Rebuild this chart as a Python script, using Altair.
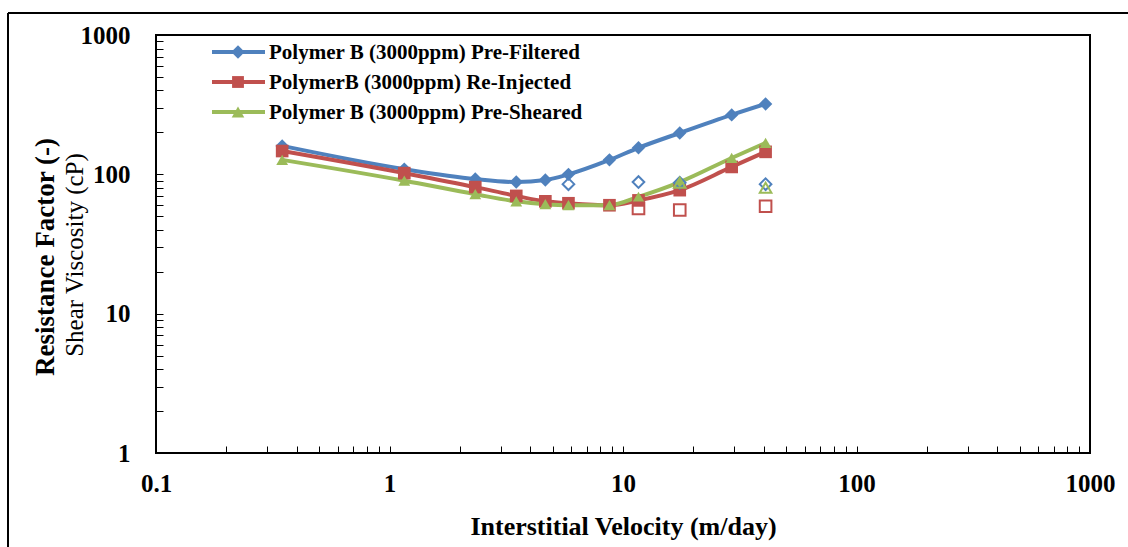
import altair as alt
import pandas as pd

# Interstitial velocity (m/day) for each measured step
velocity = [0.347, 1.157, 2.33, 3.49, 4.65, 5.84, 8.75, 11.65, 17.5, 29.2, 40.8]

# Resistance factor (-) per polymer state
rf_prefiltered = [160, 109, 92.5, 88, 91, 100, 127, 155, 198, 267, 320]
rf_reinjected = [147, 102, 81, 70, 64, 62, 60, 65, 77, 113, 145]
rf_presheared = [127, 90, 72, 64, 61, 60, 60, 69, 88, 131, 168]

# Shear viscosity (cP), measured at a few velocities only
sv_velocity = [5.84, 11.65, 17.5, 40.8]
sv_prefiltered = [85, 88, 87, 85]
sv_reinjected_velocity = [11.65, 17.5, 40.8]
sv_reinjected = [57, 55.5, 59]
sv_presheared_velocity = [17.5, 40.8]
sv_presheared = [87, 80]

series_names = [
    "Polymer B (3000ppm) Pre-Filtered",
    "PolymerB (3000ppm) Re-Injected",
    "Polymer B (3000ppm) Pre-Sheared",
]
series_colors = ["#4F81BD", "#C0504D", "#9BBB59"]
series_shapes = ["diamond", "square", "triangle-up"]
series_sizes = [180, 140, 160]

x_ticks = [0.1, 0.2, 0.3, 0.4, 0.5, 0.6, 0.7, 0.8, 0.9,
           1, 2, 3, 4, 5, 6, 7, 8, 9,
           10, 20, 30, 40, 50, 60, 70, 80, 90,
           100, 200, 300, 400, 500, 600, 700, 800, 900, 1000]
y_ticks = [1, 2, 3, 4, 5, 6, 7, 8, 9,
           10, 20, 30, 40, 50, 60, 70, 80, 90,
           100, 200, 300, 400, 500, 600, 700, 800, 900, 1000]

SERIF = "Liberation Serif, Times New Roman, serif"
W, H = 934, 418
TICK = 7

rf_df = pd.concat([
    pd.DataFrame({"v": velocity, "val": vals, "series": name})
    for name, vals in zip(series_names, [rf_prefiltered, rf_reinjected, rf_presheared])
])
sv_df = pd.concat([
    pd.DataFrame({"v": sv_velocity, "val": sv_prefiltered, "series": series_names[0]}),
    pd.DataFrame({"v": sv_reinjected_velocity, "val": sv_reinjected, "series": series_names[1]}),
    pd.DataFrame({"v": sv_presheared_velocity, "val": sv_presheared, "series": series_names[2]}),
])

decade_expr = ("(datum.value==0.1||datum.value==1||datum.value==10||"
               "datum.value==100||datum.value==1000) ? format(datum.value,'~g') : ''")

x_enc = alt.X(
    "v:Q",
    scale=alt.Scale(type="log", domain=[0.1, 1000], nice=False),
    axis=alt.Axis(
        values=x_ticks, labelExpr=decade_expr, title="Interstitial Velocity (m/day)",
        offset=-TICK, tickSize=TICK, domain=False, grid=False, tickColor="black",
        tickWidth=1, labelPadding=TICK + 11, labelFont=SERIF, labelFontSize=25,
        labelFontWeight="bold", labelColor="black", labelFlush=False, labelOverlap=False,
        titleFont=SERIF, titleFontSize=26, titleFontWeight="bold", titleColor="black",
        titlePadding=17,
    ),
)
y_enc = alt.Y(
    "val:Q",
    scale=alt.Scale(type="log", domain=[1, 1000], nice=False),
    axis=alt.Axis(
        values=y_ticks, labelExpr=decade_expr.replace("0.1", "1"), title=None,
        offset=-TICK, tickSize=TICK, domain=False, grid=False, tickColor="black",
        tickWidth=1, labelPadding=TICK + 19, labelFont=SERIF, labelFontSize=25,
        labelFontWeight="bold", labelColor="black", labelFlush=False, labelOverlap=False,
    ),
)

color_scale = alt.Scale(domain=series_names, range=series_colors)
shape_scale = alt.Scale(domain=series_names, range=series_shapes)
size_scale = alt.Scale(domain=series_names, range=series_sizes)

lines = alt.Chart(rf_df).mark_line(strokeWidth=4, interpolate="monotone").encode(
    x=x_enc, y=y_enc,
    color=alt.Color("series:N", scale=color_scale, legend=None),
    detail="series:N",
)
points = alt.Chart(rf_df).mark_point(filled=True, opacity=1).encode(
    x="v:Q", y="val:Q",
    color=alt.Color("series:N", scale=color_scale, legend=None),
    shape=alt.Shape("series:N", scale=shape_scale, legend=None),
    size=alt.Size("series:N", scale=size_scale, legend=None),
)
hollow = alt.Chart(sv_df).mark_point(filled=False, opacity=1, size=135, strokeWidth=2).encode(
    x="v:Q", y="val:Q",
    color=alt.Color("series:N", scale=color_scale, legend=None),
    shape=alt.Shape("series:N", scale=shape_scale, legend=None),
)

one_row = pd.DataFrame({"k": [0]})

# Plot-area frame
plot_frame = alt.Chart(one_row).mark_rect(
    filled=False, stroke="black", strokeWidth=2).encode(
    x=alt.value(0), x2=alt.value(W), y=alt.value(0), y2=alt.value(H))

# Legend drawn inside the plot area, top left
legend_layers = []
legend_rows = [17, 47, 77]
for name, col, shp, sz, yy in zip(series_names, series_colors, series_shapes, series_sizes, legend_rows):
    legend_layers.append(alt.Chart(one_row).mark_rule(color=col, strokeWidth=4).encode(
        x=alt.value(56), x2=alt.value(109), y=alt.value(yy)))
    legend_layers.append(alt.Chart(one_row).mark_point(
        filled=True, opacity=1, color=col, shape=shp, size=sz).encode(
        x=alt.value(82), y=alt.value(yy)))
    legend_layers.append(alt.Chart(one_row).mark_text(
        align="left", baseline="middle", font=SERIF, fontSize=21, fontWeight="bold",
        color="black").encode(x=alt.value(113), y=alt.value(yy + 1), text=alt.value(name)))

# Two-line y-axis title: bold resistance factor, regular shear viscosity
ytitle1 = alt.Chart(one_row).mark_text(
    angle=270, align="center", baseline="middle", font=SERIF, fontSize=27,
    fontWeight="bold", color="black").encode(
    x=alt.value(-110), y=alt.value(222), text=alt.value("Resistance Factor (-)"))
ytitle2 = alt.Chart(one_row).mark_text(
    angle=270, align="center", baseline="middle", font=SERIF, fontSize=25,
    fontWeight="normal", color="black").encode(
    x=alt.value(-81), y=alt.value(220), text=alt.value("Shear Viscosity (cP)"))

# Outer frame (top and left edges)
frame_top = alt.Chart(one_row).mark_rule(color="black", strokeWidth=2).encode(
    x=alt.value(-148), x2=alt.value(980), y=alt.value(-22))
frame_left = alt.Chart(one_row).mark_rule(color="black", strokeWidth=2).encode(
    x=alt.value(-148), y=alt.value(-22), y2=alt.value(530))

chart = alt.layer(
    lines, points, hollow, plot_frame, *legend_layers, ytitle1, ytitle2, frame_top, frame_left
).properties(
    width=W, height=H,
    autosize=alt.AutoSizeParams(type="none"),
    padding={"left": 156, "top": 35, "right": 38, "bottom": 94},
).configure_view(
    stroke=None,
).configure(background="white")

chart.save("out.html", embed_options={"renderer": "svg", "actions": False})
